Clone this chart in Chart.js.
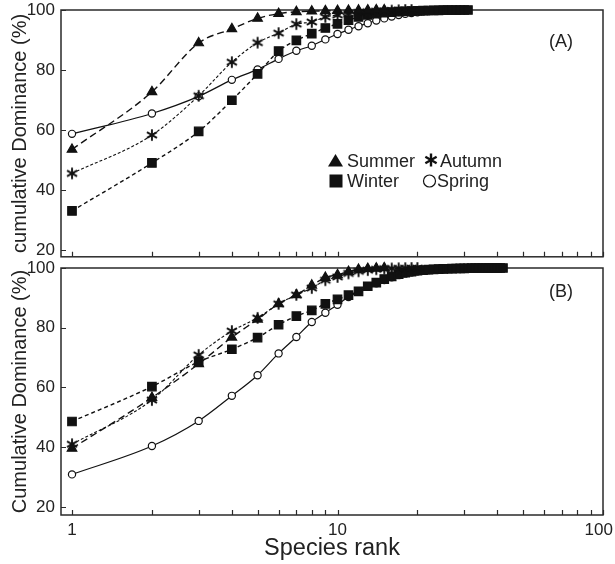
<!DOCTYPE html>
<html>
<head>
<meta charset="utf-8">
<script src="https://cdn.jsdelivr.net/npm/chart.js@4.4.0/dist/chart.umd.min.js"></script>
<style>
  html, body { margin: 0; padding: 0; background: #fff; }
  #wrap { position: relative; width: 615px; height: 564px; overflow: hidden; }
  canvas { position: absolute; left: 0; }
  #chartA { top: 0; }
  #chartB { top: 240px; }
</style>
</head>
<body>
<div id="wrap">
  <canvas id="chartA" width="615" height="264"></canvas>
  <canvas id="chartB" width="615" height="324"></canvas>
</div>
<script>
// Data: cumulative dominance (%) by species rank
const seasons = ['Summer', 'Autumn', 'Winter', 'Spring'];

// Panel A
const summerA = [53.5, 72.7, 89.0, 93.7, 97.2, 98.8, 99.4, 99.6, 99.7, 99.8, 99.85, 99.9, 99.95, 100, 100];
const autumnA = [45.5, 58.3, 71.4, 82.6, 89.1, 92.3, 95.3, 96.0, 97.7, 98.3, 98.8, 99.2, 99.4, 99.6, 99.7, 99.8, 99.9, 100, 100];
const winterA = [33.0, 49.0, 59.5, 69.9, 78.7, 86.3, 89.9, 92.1, 94.0, 95.4, 96.6, 97.7, 98.4, 98.8, 99.1, 99.3, 99.45, 99.55, 99.65, 99.72,
                 99.78, 99.83, 99.87, 99.9, 99.93, 99.95, 99.97, 99.98, 99.99, 100, 100];
const springA = [58.7, 65.5, 71.2, 76.7, 80.2, 83.7, 86.4, 88.1, 90.2, 92.0, 93.4, 94.6, 95.6, 96.5, 97.2, 97.8, 98.3, 98.7, 99.0, 99.25,
                 99.45, 99.6, 99.7, 99.8, 99.87, 99.92, 99.96, 99.98, 100];

// Panel B
const summerB = [39.6, 56.6, 67.9, 76.8, 82.8, 88.0, 91.0, 94.2, 96.8, 97.7, 98.8, 99.5, 99.8, 99.9, 100];
const autumnB = [41.0, 55.8, 70.9, 78.9, 83.3, 88.0, 91.0, 93.3, 95.9, 97.0, 98.2, 98.9, 99.3, 99.6, 99.75, 99.85, 99.9, 99.95, 100, 100];
const winterB = [48.6, 60.3, 68.6, 72.8, 76.7, 81.0, 83.9, 85.8, 88.0, 89.5, 90.9, 92.2, 93.9, 95.1, 96.3, 97.2, 97.9, 98.4, 98.8, 99.1,
                 99.3, 99.45, 99.55, 99.65, 99.7, 99.75, 99.8, 99.84, 99.87, 99.9, 99.92, 99.94, 99.95, 99.96, 99.97, 99.98, 99.98, 99.99,
                 99.99, 100, 100, 100];
const springB = [30.9, 40.4, 48.8, 57.2, 64.1, 71.4, 76.9, 81.9, 85.0, 87.7, 90.3, 92.1, 93.7, 94.9, 96.0, 96.9, 97.6, 98.1, 98.5, 98.8,
                 99.05, 99.25, 99.4, 99.5, 99.6, 99.68, 99.75, 99.8, 99.85, 99.88, 99.91, 99.93, 99.95, 99.96, 99.97, 99.98, 99.99,
                 99.99, 100, 100];

// Axis ticks
const xTicks = [1, 2, 3, 4, 5, 6, 7, 8, 9, 10, 20, 30, 40, 50, 60, 70, 80, 90, 100];
const xLabels = [1, 10, 100];
const yTicks = [20, 40, 60, 80, 100];

const FONT = '"Liberation Sans", Arial, Helvetica, sans-serif';
const INK = '#111';
const TEXT = '#222';

// six-armed asterisk used for Autumn
function makeStar(r, lw) {
    const c = document.createElement('canvas');
    const s = Math.ceil(r * 2 + lw * 2);
    c.width = s; c.height = s;
    const g = c.getContext('2d');
    g.strokeStyle = INK;
    g.lineWidth = lw;
    g.translate(s / 2, s / 2);
    for (let k = 0; k < 3; k++) {
        const a = Math.PI / 2 + k * Math.PI / 3;
        g.beginPath();
        g.moveTo(Math.cos(a) * r, Math.sin(a) * r);
        g.lineTo(-Math.cos(a) * r, -Math.sin(a) * r);
        g.stroke();
    }
    return c;
}
const starPoint = makeStar(5.8, 1.9);
const starLegend = makeStar(6.5, 2.4);

const styles = {
    Summer: { pointStyle: 'triangle', pointRadius: 5.5, pointBackgroundColor: INK, borderDash: [7, 4], borderWidth: 1.4 },
    Autumn: { pointStyle: starPoint, pointRadius: 6, pointBackgroundColor: INK, borderDash: [3, 2], borderWidth: 1.1 },
    Winter: { pointStyle: 'rect', pointRadius: 6, pointBackgroundColor: INK, borderDash: [4, 3], borderWidth: 1.4 },
    Spring: { pointStyle: 'circle', pointRadius: 3.6, pointBackgroundColor: '#fff', borderDash: [], borderWidth: 1.2 }
};

function series(label, values) {
    return Object.assign({
        label: label,
        data: values.map((v, i) => ({ x: i + 1, y: v })),
        showLine: true,
        clip: false,
        borderColor: INK,
        pointBorderColor: INK,
        pointBorderWidth: 1.2,
        cubicInterpolationMode: 'monotone'
    }, styles[label]);
}

// frame + inward ticks
const framePlugin = {
    id: 'frame',
    beforeDatasetsDraw(chart) {
        const { ctx, chartArea: a, scales } = chart;
        ctx.save();
        ctx.strokeStyle = '#2a2a2a';
        ctx.lineWidth = 1.2;
        ctx.beginPath();
        xTicks.forEach(v => {
            const px = Math.round(scales.x.getPixelForValue(v)) + 0.5;
            ctx.moveTo(px, a.bottom);
            ctx.lineTo(px, a.bottom - 5);
        });
        yTicks.forEach(v => {
            const py = Math.round(scales.y.getPixelForValue(v)) + 0.5;
            ctx.moveTo(a.left, py);
            ctx.lineTo(a.left + 5, py);
        });
        ctx.stroke();
        ctx.lineWidth = 1.5;
        ctx.strokeRect(a.left, a.top, a.right - a.left, a.bottom - a.top);
        ctx.restore();
    }
};

function tagPlugin(text, y) {
    return {
        id: 'tag',
        afterDraw(chart) {
            const ctx = chart.ctx;
            ctx.save();
            ctx.fillStyle = TEXT;
            ctx.font = '18px ' + FONT;
            ctx.textAlign = 'center';
            ctx.textBaseline = 'middle';
            ctx.fillText(text, 561, y);
            ctx.restore();
        }
    };
}

// legend laid out as in the figure: Summer / Autumn, Winter / Spring
const legendSpots = [
    { mx: 335.5, my: 161, tx: 347, ty: 167 },
    { mx: 431, my: 160, tx: 440, ty: 167 },
    { mx: 336, my: 181, tx: 347, ty: 187 },
    { mx: 429.5, my: 181, tx: 437, ty: 187 }
];
const legendPlugin = {
    id: 'seasonLegend',
    afterDraw(chart) {
        const ctx = chart.ctx;
        ctx.save();
        chart.data.datasets.forEach((ds, k) => {
            const p = legendSpots[k];
            ctx.fillStyle = INK;
            ctx.strokeStyle = INK;
            ctx.beginPath();
            if (ds.pointStyle === 'triangle') {
                ctx.moveTo(p.mx, p.my - 7);
                ctx.lineTo(p.mx + 7.5, p.my + 5.5);
                ctx.lineTo(p.mx - 7.5, p.my + 5.5);
                ctx.closePath();
                ctx.fill();
            } else if (ds.pointStyle === 'rect') {
                ctx.fillRect(p.mx - 6.5, p.my - 6.5, 13, 13);
            } else if (ds.pointStyle === 'circle') {
                ctx.lineWidth = 1.2;
                ctx.arc(p.mx, p.my, 6, 0, Math.PI * 2);
                ctx.stroke();
            } else {
                ctx.drawImage(starLegend, p.mx - starLegend.width / 2, p.my - starLegend.height / 2);
            }
            ctx.fillStyle = TEXT;
            ctx.font = '18px ' + FONT;
            ctx.textAlign = 'left';
            ctx.textBaseline = 'alphabetic';
            ctx.fillText(ds.label, p.tx, p.ty);
        });
        ctx.restore();
    }
};

function makeChart(id, data, cfg) {
    return new Chart(document.getElementById(id), {
        type: 'scatter',
        data: { datasets: seasons.map((s, k) => series(s, data[k])) },
        options: {
            responsive: false,
            animation: false,
            devicePixelRatio: 1,
            layout: { padding: cfg.padding },
            plugins: { legend: { display: false }, tooltip: { enabled: false } },
            scales: {
                x: {
                    type: 'logarithmic',
                    min: 0.909,
                    max: 100,
                    display: cfg.showX,
                    grid: { display: false, drawTicks: false },
                    border: { display: false },
                    afterBuildTicks: s => { s.ticks = xTicks.map(v => ({ value: v })); },
                    afterFit: s => { s.height = cfg.xHeight; s.paddingLeft = 0; s.paddingRight = 0; },
                    ticks: {
                        autoSkip: false, maxRotation: 0, padding: 5, color: TEXT,
                        font: { family: FONT, size: 17 },
                        // the last label sits at the page edge; a trailing en space nudges it left
                        callback: v => xLabels.includes(v) ? (v === 100 ? '100\u2002' : String(v)) : ''
                    },
                    title: {
                        display: cfg.showX, text: 'Species rank', color: TEXT,
                        font: { family: FONT, size: 23.5 }, padding: { top: 0, bottom: 1 }
                    }
                },
                y: {
                    min: cfg.yMin,
                    max: 100,
                    grid: { display: false, drawTicks: false },
                    border: { display: false },
                    afterBuildTicks: s => { s.ticks = yTicks.map(v => ({ value: v })); },
                    afterFit: s => { s.width = 61; s.paddingTop = 0; s.paddingBottom = 0; },
                    ticks: { padding: 6, color: TEXT, font: { family: FONT, size: 17 } },
                    title: {
                        display: true, text: cfg.yTitle, color: TEXT,
                        font: { family: FONT, size: 20 }, padding: { top: 8, bottom: 0 }
                    }
                }
            }
        },
        plugins: cfg.plugins
    });
}

makeChart('chartA', [summerA, autumnA, winterA, springA], {
    padding: { top: 10, right: 12, bottom: 2, left: 0 },
    showX: false,
    xHeight: 0,
    yMin: 17.7,
    yTitle: 'cumulative Dominance (%)',
    plugins: [framePlugin, tagPlugin('(A)', 42), legendPlugin]
});

makeChart('chartB', [summerB, autumnB, winterB, springB], {
    padding: { top: 28, right: 12, bottom: 0, left: 0 },
    showX: true,
    xHeight: 49,
    yMin: 17.3,
    yTitle: 'Cumulative Dominance (%)',
    plugins: [framePlugin, tagPlugin('(B)', 52)]
});
</script>
</body>
</html>
